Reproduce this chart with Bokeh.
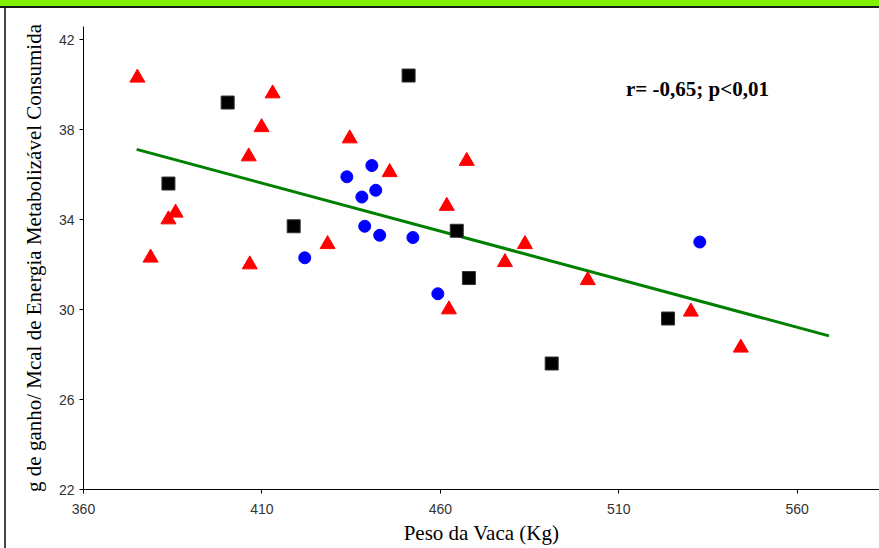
from bokeh.plotting import figure
from bokeh.models import Range1d, FixedTicker, Label, Div
from bokeh.layouts import column, row
from bokeh.embed import file_html
from bokeh.resources import INLINE

# Data
tri_x = [375.1, 378.8, 383.8, 385.8, 406.3, 406.6, 409.9, 413.0, 428.4, 434.6,
         445.8, 461.8, 462.4, 467.4, 478.1, 483.7, 501.3, 530.2, 544.2]
tri_y = [40.3, 32.3, 34.0, 34.3, 36.8, 32.0, 38.1, 39.6, 32.9, 37.6,
         36.1, 34.6, 30.0, 36.6, 32.1, 32.9, 31.3, 29.9, 28.3]

sq_x = [383.8, 400.4, 418.9, 451.1, 464.6, 468.0, 491.2, 523.8]
sq_y = [35.6, 39.2, 33.7, 40.4, 33.5, 31.4, 27.6, 29.6]

circ_x = [422.0, 433.8, 438.0, 438.8, 440.8, 441.9, 443.0, 452.3, 459.3, 532.7]
circ_y = [32.3, 35.9, 35.0, 33.7, 36.4, 35.3, 33.3, 33.2, 30.7, 33.0]

trend_x = [374.9, 568.9]
trend_y = [37.12, 28.83]

x_ticks = [360, 410, 460, 510, 560]
y_ticks = [22, 26, 30, 34, 38, 42]

p = figure(width=873, height=540, output_backend="svg", toolbar_location=None,
           x_range=Range1d(360, 583.06), y_range=Range1d(22, 42.58),
           min_border_left=77, min_border_top=18, min_border_right=0, min_border_bottom=59,
           margin=0)

p.background_fill_color = "white"
p.border_fill_color = "white"
p.outline_line_color = None
p.grid.visible = False

# Axes
p.xaxis.ticker = FixedTicker(ticks=x_ticks)
p.yaxis.ticker = FixedTicker(ticks=y_ticks)
for ax in (p.xaxis[0], p.yaxis[0]):
    ax.axis_line_color = "black"
    ax.axis_line_width = 1
    ax.major_tick_line_color = "black"
    ax.minor_tick_line_color = None
    ax.major_tick_in = 0
    ax.major_tick_out = 4
    ax.major_label_text_font = "Liberation Sans"
    ax.major_label_text_font_size = "14px"
    ax.major_label_text_color = "#333333"
    ax.axis_label_text_font = "Liberation Serif"
    ax.axis_label_text_font_size = "21px"
    ax.axis_label_text_font_style = "normal"
    ax.axis_label_text_color = "black"

p.xaxis.axis_label = "Peso da Vaca (Kg)"
p.yaxis.axis_label = "g de ganho/ Mcal de Energia Metabolizável Consumida"
p.xaxis.major_label_standoff = 10
p.xaxis.axis_label_standoff = 4
p.yaxis.major_label_standoff = 5
p.yaxis.axis_label_standoff = 10

# Trend line
p.line(trend_x, trend_y, line_color="#008000", line_width=3)

# Markers
p.scatter(tri_x, tri_y, marker="triangle", size=15, fill_color="red", line_color="red")
p.scatter(sq_x, sq_y, marker="square", size=13, fill_color="black", line_color="#333333")
p.scatter(circ_x, circ_y, marker="circle", size=12, fill_color="blue", line_color="blue")

# Annotation (screen units relative to the frame)
p.add_layout(Label(x=614, y=401, x_units="screen", y_units="screen",
                   text="r= -0,65; p<0,01", text_font="Liberation Serif",
                   text_font_size="21px", text_font_style="bold",
                   text_color="black", text_align="center", text_baseline="middle"))

header = Div(width=879, height=8, margin=0,
             styles={"background-color": "#80F000", "border-bottom": "2px solid #1a1a1a",
                     "box-sizing": "border-box"})
left_border = Div(width=6, height=540, margin=0,
                  styles={"border-right": "2px solid #444444", "box-sizing": "border-box",
                          "background-color": "white"})

layout = column(header, row(left_border, p, spacing=0, margin=0), spacing=0, margin=0)

open("out.html", "w").write(file_html(layout, INLINE))
